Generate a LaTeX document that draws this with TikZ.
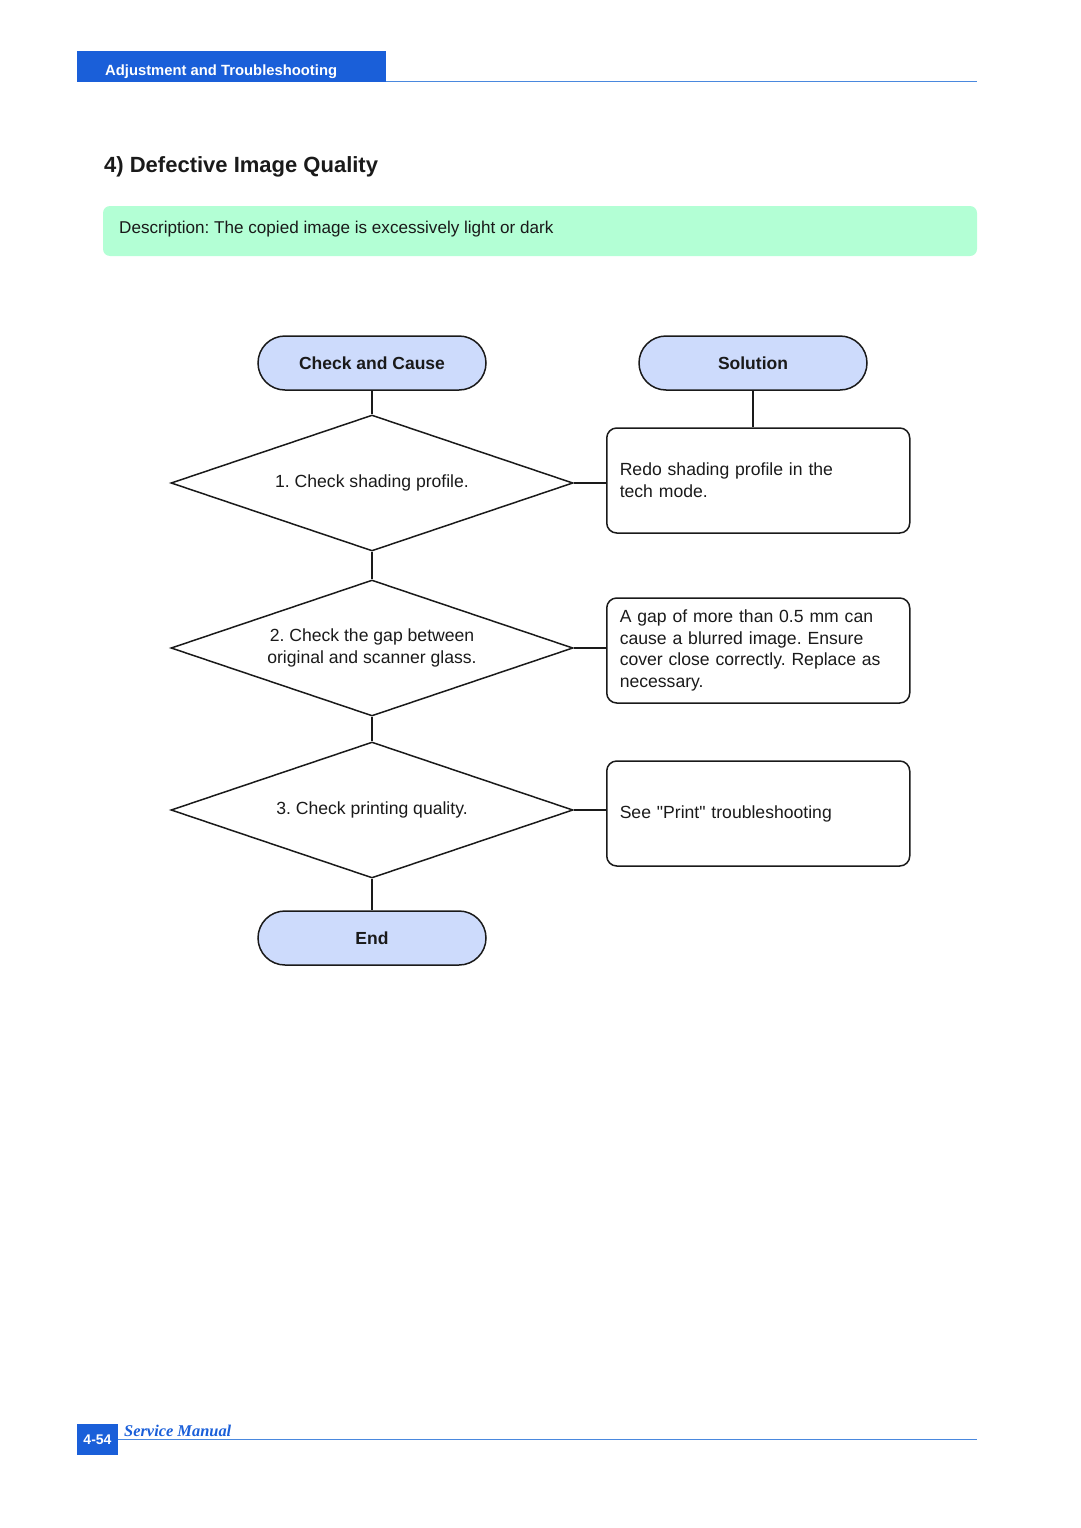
\documentclass[tikz,border=0pt]{standalone}
\usepackage{fontspec}
\setmainfont{Liberation Sans}
\newfontfamily\serifff{Liberation Serif}
\usetikzlibrary{shapes.geometric}
\definecolor{hdrblue}{HTML}{1A5FD9}
\definecolor{lineblue}{HTML}{4A88DE}
\definecolor{descgreen}{HTML}{B3FFD5}
\definecolor{termfill}{HTML}{CDDBFC}
\definecolor{inkc}{HTML}{1A1A1A}
\frenchspacing
\begin{document}
\begin{tikzpicture}[x=1pt,y=-1pt,
  txt/.style={font=\fontsize{17.6}{21.8}\selectfont, text=inkc},
  term/.style={draw=inkc, line width=1.5pt, fill=termfill, rounded corners=27pt,
    minimum width=228pt, minimum height=54pt, inner sep=0pt,
    font=\fontsize{17.5}{21}\selectfont\bfseries, text=inkc},
  dec/.style={draw=inkc, line width=1.5pt, diamond, aspect=2.956, inner sep=0pt,
    minimum width=402pt, minimum height=136pt, align=center, txt},
  sol/.style={draw=inkc, line width=1.5pt, rounded corners=10pt, anchor=west,
    minimum height=105pt, text width=277pt, inner xsep=13pt, inner ysep=0pt,
    align=left, txt},
  conn/.style={draw=inkc, line width=1.5pt}
]
\useasboundingbox (0,0) rectangle (1080,1528);
% header
\fill[hdrblue] (77,51) rectangle (386,82);
\node (hdr) [anchor=base west, inner sep=0pt, text=white,
  font=\fontsize{14.8}{18}\selectfont\bfseries] at (105,75) {Adjustment and Troubleshooting};
\draw[lineblue, line width=1.6pt] (386,81.5) -- (977,81.5);
% title
\node (title) [anchor=base west, inner sep=0pt, text=inkc,
  font=\fontsize{22}{26}\selectfont\bfseries] at (104,172) {4) Defective Image Quality};
% description
\fill[descgreen, rounded corners=7pt] (103,206) rectangle (977,256);
\node (desc) [anchor=base west, inner sep=0pt, font=\fontsize{17.1}{21}\selectfont, text=inkc] at (119,233)
  {Description: The copied image is excessively light or dark};
% terminals
\node (cc) [term] at (372,363) {Check and Cause};
\node (so) [term] at (753,363) {Solution};
\node (en) [term] at (372,938) {End};
% decisions
\node (d1) [dec] at (372,483) {1. Check shading profile.};
\node (d2) [dec] at (372,648) {2. Check the gap between\\original and scanner glass.};
\node (d3) [dec] at (372,810) {3. Check printing quality.};
% solutions
\node (s1) [sol] at (606,480.5) {Redo shading profile in the\\tech mode.};
\node (s2) [sol] at (606,650.5) {A gap of more than 0.5 mm can cause a blurred image. Ensure cover close correctly. Replace as necessary.};
\node (s3) [sol] at (606,813.5) {See \textquotedbl Print\textquotedbl{} troubleshooting};
% connectors
\draw[conn] (cc) -- (d1);
\draw[conn] (d1) -- (d2);
\draw[conn] (d2) -- (d3);
\draw[conn] (d3) -- (en);
\draw[conn] (so) -- (so |- s1.north);
\draw[conn] (d1.east) -- (s1.west |- d1.east);
\draw[conn] (d2.east) -- (s2.west |- d2.east);
\draw[conn] (d3.east) -- (s3.west |- d3.east);
% footer
\fill[hdrblue] (77,1424) rectangle (118,1455);
\node (pg) [text=white, inner sep=0pt, font=\fontsize{14}{16}\selectfont\bfseries] at (97.5,1439.5) {4-54};
\draw[lineblue, line width=1.2pt] (118,1439.5) -- (977,1439.5);
\node (sm) [anchor=base west, inner sep=0pt, text=hdrblue,
  font=\fontsize{16.4}{20}\serifff\bfseries\itshape] at (124,1436) {Service Manual};
\end{tikzpicture}
\end{document}
